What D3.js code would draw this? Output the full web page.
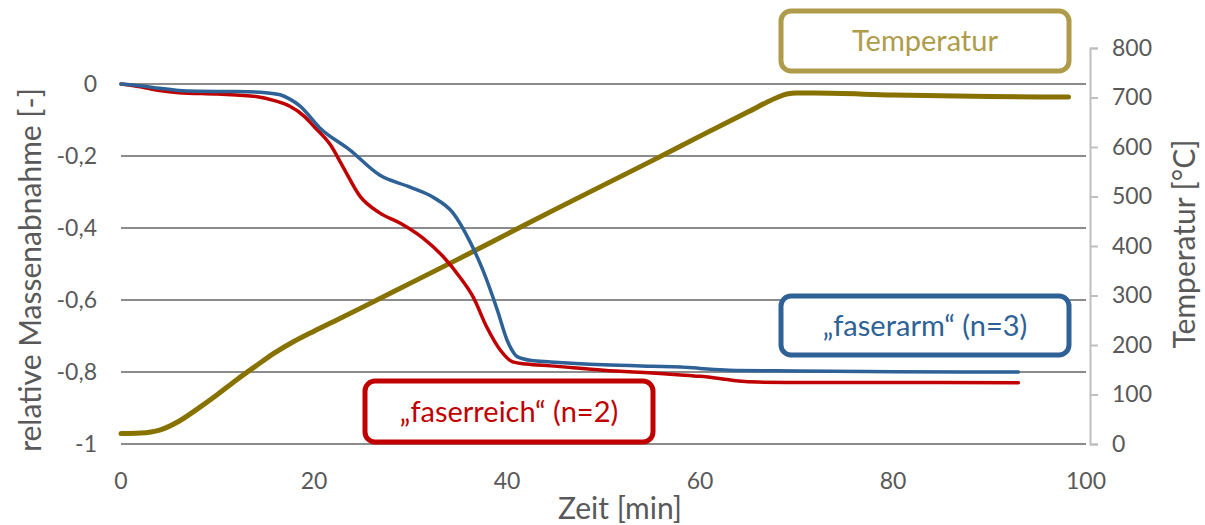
<!DOCTYPE html>
<html><head><meta charset="utf-8">
<script src="https://cdn.jsdelivr.net/npm/d3@7"></script>
<style>body{margin:0;background:#fff;}svg{display:block;font-family:Lato,"Open Sans",sans-serif;}</style>
</head><body><svg id="c" width="1205" height="525"></svg>
<script>
// Data
const massTicks = [-1, -0.8, -0.6, -0.4, -0.2, 0];
const massTickLabels = ["-1", "-0,8", "-0,6", "-0,4", "-0,2", "0"];
const timeTicks = [0, 20, 40, 60, 80, 100];
const tempTicks = [0, 100, 200, 300, 400, 500, 600, 700, 800];

const tempTime = [0, 2, 4, 6, 8, 10, 12, 14, 16, 18, 20, 22, 25, 30, 35, 40, 45, 50, 55, 60, 65, 68, 69, 70, 72, 80, 90, 98.2];
const tempValue = [21, 22, 28, 46, 72, 100, 130, 158, 185, 208, 228, 247, 276, 325, 374, 424, 474, 523, 572, 622, 671, 700, 707, 709, 709, 705, 702, 701];

const armTime = [0, 2, 4, 6, 8, 12, 15, 16.5, 17.5, 18.5, 20.6, 23.7, 26.8, 29.9, 32.3, 34.4, 36.2, 37.5, 39, 40, 41.1, 42.5, 44.5, 50, 55, 58, 60, 63, 70, 80, 93];
const armValue = [0, -0.005, -0.012, -0.018, -0.02, -0.021, -0.024, -0.03, -0.042, -0.06, -0.122, -0.183, -0.253, -0.286, -0.314, -0.358, -0.44, -0.517, -0.628, -0.711, -0.758, -0.768, -0.772, -0.78, -0.784, -0.786, -0.79, -0.795, -0.797, -0.799, -0.8];

const reichTime = [0, 2, 4, 6, 10, 14, 16, 17.5, 19, 20, 21.7, 23, 24.8, 26.8, 28.9, 31.3, 33.4, 35.1, 36.5, 37.9, 39.3, 40.6, 42, 44.5, 50, 55, 58, 60, 62, 64, 66, 70, 80, 93];
const reichValue = [0, -0.008, -0.018, -0.024, -0.028, -0.035, -0.047, -0.062, -0.09, -0.118, -0.169, -0.23, -0.313, -0.358, -0.386, -0.428, -0.48, -0.536, -0.592, -0.675, -0.739, -0.772, -0.778, -0.783, -0.795, -0.803, -0.808, -0.812, -0.818, -0.825, -0.828, -0.829, -0.829, -0.83];

const svg = d3.select("#c");
const x = d3.scaleLinear().domain([0, 100]).range([121, 1086]);
const yL = d3.scaleLinear().domain([-1, 0.1]).range([444, 48]);
const yR = d3.scaleLinear().domain([0, 800]).range([444, 48]);
const txt = "#595959";

// gridlines
svg.append("g").selectAll("line").data(massTicks).join("line")
  .attr("x1", x(0)).attr("x2", x(100))
  .attr("y1", d => yL(d)).attr("y2", d => yL(d))
  .attr("stroke", "#8c8c8c").attr("stroke-width", 2);

// left tick labels
svg.append("g").selectAll("text").data(massTicks).join("text")
  .attr("x", 97).attr("y", d => yL(d)).attr("dy", "0.35em")
  .attr("text-anchor", "end").attr("fill", txt).attr("font-size", 23)
  .text((d, i) => massTickLabels[i]);

// x tick labels
svg.append("g").selectAll("text").data(timeTicks).join("text")
  .attr("x", d => x(d)).attr("y", 489)
  .attr("text-anchor", "middle").attr("fill", txt).attr("font-size", 23)
  .text(d => d);

// right axis
const rAxis = d3.axisRight(yR).tickValues(tempTicks).tickSize(8).tickPadding(14);
const rg = svg.append("g").attr("transform", "translate(1090,0)").call(rAxis);
rg.select(".domain").attr("stroke", "#bfbfbf").attr("stroke-width", 2);
rg.selectAll(".tick line").attr("stroke", "#bfbfbf").attr("stroke-width", 2);
rg.selectAll(".tick text").attr("fill", txt).attr("font-size", 23).attr("font-family", "Lato");

// axis titles
svg.append("text").attr("transform", "translate(41,270) rotate(-90)")
  .attr("text-anchor", "middle").attr("fill", txt).attr("font-size", 30)
  .text("relative Massenabnahme [-]");
svg.append("text").attr("transform", "translate(1195,244) rotate(-90)")
  .attr("text-anchor", "middle").attr("fill", txt).attr("font-size", 30)
  .text("Temperatur [°C]");
svg.append("text").attr("x", 620).attr("y", 519)
  .attr("text-anchor", "middle").attr("fill", txt).attr("font-size", 30)
  .text("Zeit [min]");

// lines
function drawLine(ts, vs, yScale, color, w) {
  const pts = ts.map((t, i) => [t, vs[i]]);
  svg.append("path").datum(pts)
    .attr("d", d3.line().x(d => x(d[0])).y(d => yScale(d[1])).curve(d3.curveMonotoneX))
    .attr("fill", "none").attr("stroke", color).attr("stroke-width", w)
    .attr("stroke-linecap", "round").attr("stroke-linejoin", "round");
}
drawLine(tempTime, tempValue, yR, "#877200", 5);
drawLine(reichTime, reichValue, yL, "#c00000", 3.5);
drawLine(armTime, armValue, yL, "#2e6196", 3.5);

// annotation boxes
function box(x0, y0, w, h, color, label) {
  svg.append("rect").attr("x", x0).attr("y", y0).attr("width", w).attr("height", h)
    .attr("rx", 10).attr("fill", "#fff").attr("stroke", color).attr("stroke-width", 5);
  svg.append("text").attr("x", x0 + w / 2).attr("y", y0 + h / 2).attr("dy", "0.35em")
    .attr("text-anchor", "middle").attr("fill", color).attr("font-size", 29).text(label);
}
box(781, 11, 288, 60, "#ae9c4a", "Temperatur");
box(365, 381, 288, 61, "#c00000", "\u201Efaserreich\u201C (n=2)");
box(781, 296, 288, 59, "#2e6196", "\u201Efaserarm\u201C (n=3)");
</script></body></html>
